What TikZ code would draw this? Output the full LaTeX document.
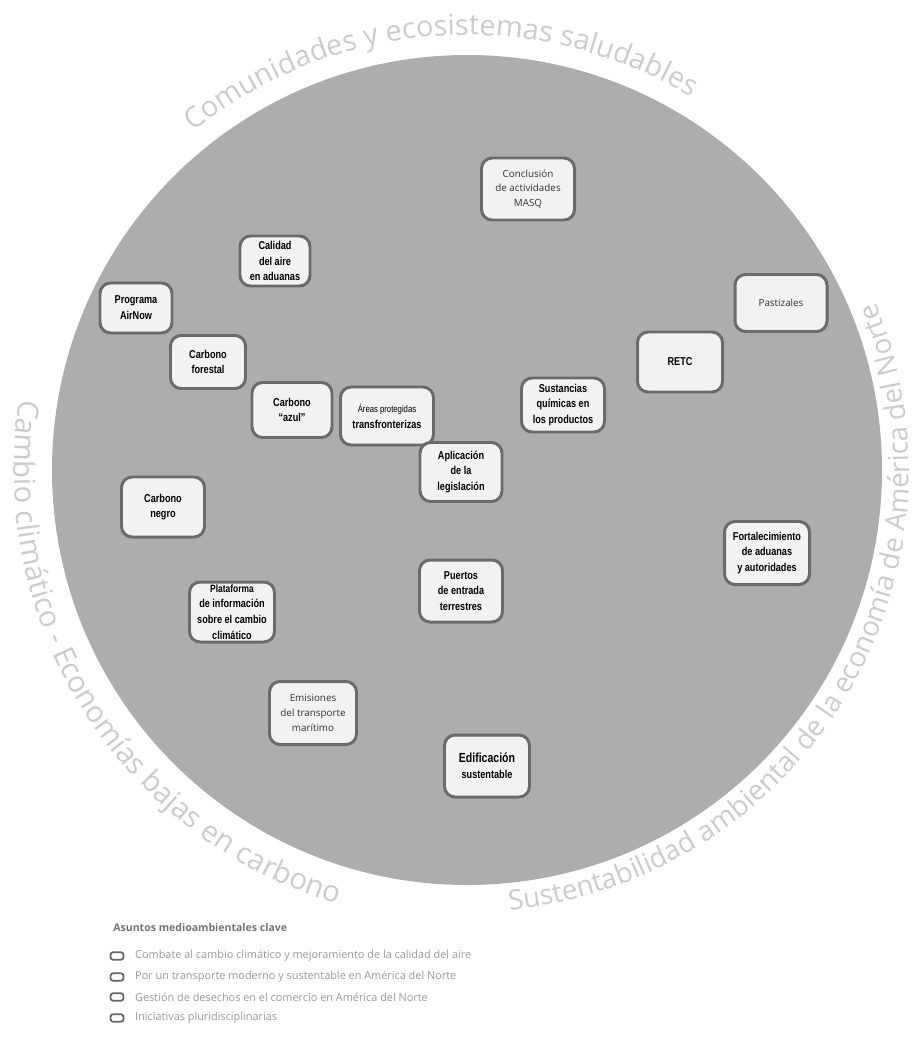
\documentclass[tikz,border=0pt]{standalone}
\usepackage{fontspec}
\setmainfont{Open Sans}
\newfontfamily\cajafont[FakeStretch=0.8]{Liberation Sans}
\usetikzlibrary{decorations.text,positioning}

\begin{document}
\begin{tikzpicture}[x=0.02cm, y=0.02cm, line cap=round, line join=round,
	caja/.style={draw=black!58, line width=1.7pt, fill=white!95!black, rounded corners=6pt, align=center, inner sep=0pt, font=\cajafont\bfseries\fontsize{6.5}{9}\selectfont},
	cajafina/.style={caja, font=\fontsize{5.6}{8.4}\selectfont, text=black!80},
	icono/.style={draw=black!60, line width=1pt, fill=white, rounded corners=1.5pt, minimum width=0.26cm, minimum height=0.15cm, inner sep=0pt},
	leyenda/.style={anchor=west, inner sep=0pt, text=black!40, font=\fontsize{6.2}{7}\selectfont},
	rotulo/.style 2 args={decorate, decoration={text along path, text align=left, text color=black!20, text={|\fontsize{#1}{#1}\selectfont|#2}}}]
	\useasboundingbox (0,0) rectangle (917,-1048);
	% disco
	\fill[black!32] (467,-470) circle[radius=415];
	% textos en arco
	\path[rotulo={16.4}{Comunidades y ecosistemas saludables}] (467,-470) ++(129:435) arc[start angle=129, end angle=40, radius=435];
	\path[rotulo={16.7}{Cambio climático - Economías bajas en carbono}] (467,-470) ++(171:453) arc[start angle=171, end angle=268, radius=453];
	\path[rotulo={15.8}{Sustentabilidad ambiental de la economía de América del Norte}] (467,-470) ++(275.5:442) arc[start angle=275.5, end angle=400, radius=442];
	% proyectos
	\foreach \nm/\px/\py/\w/\h/\txt in {programa/136/308/72/50/{Programa\\AirNow}, calidad/275/261/70/50/{Calidad\\del aire\\en aduanas}, forestal/208/362/75/53/{Carbono\\forestal}, azul/292/410/80/55/{Carbono\\“azul”}, areas/387/416/93/58/{{\mdseries\fontsize{5.5}{8}\selectfont Áreas protegidas}\\transfronterizas}, negro/163/507/83/60/{Carbono\\negro}, aplicacion/461/472/82/59/{Aplicación\\de la\\legislación}, puertos/461/591/83/62/{Puertos\\de entrada\\terrestres}, fortalecimiento/767/553/85/63/{Fortalecimiento\\de aduanas\\y autoridades}, plataforma/232/612/85/60/{\fontsize{6}{7.3}\selectfont Plataforma\\de información\\sobre el cambio\\climático}, edificacion/487/766/85/62/{\fontsize{7.5}{10}\selectfont Edificación\\sustentable}, sustancias/563/405/83/54/{Sustancias\\químicas en\\los productos}, retc/680/362/85/60/{RETC}}
	\node[caja, minimum width=\w*0.02cm, minimum height=\h*0.02cm] (\nm) at (\px,-\py) {\txt};
	\foreach \nm/\px/\py/\w/\h/\txt in {masq/528/189/93/62/{Conclusión\\de actividades\\MASQ}, pastizales/781/303/92/57/{Pastizales}, emisiones/313/713/87/63/{Emisiones\\del transporte\\marítimo}}
	\node[cajafina, minimum width=\w*0.02cm, minimum height=\h*0.02cm] (\nm) at (\px,-\py) {\txt};
	% leyenda
	\node[leyenda, text=black!55, font=\bfseries\fontsize{6}{7}\selectfont] (titulo) at (113,-928) {Asuntos medioambientales clave};
	\foreach \k/\py/\txt in {1/956/{Combate al cambio climático y mejoramiento de la calidad del aire}, 2/977/{Por un transporte moderno y sustentable en América del Norte}, 3/997/{Gestión de desechos en el comercio en América del Norte}, 4/1018/{Iniciativas pluridisciplinarias}}{
		\node[icono] (icono\k) at (117,-\py) {};
		\node[leyenda, right=0.21cm of icono\k] (item\k) {\txt};
	}
\end{tikzpicture}
\end{document}
